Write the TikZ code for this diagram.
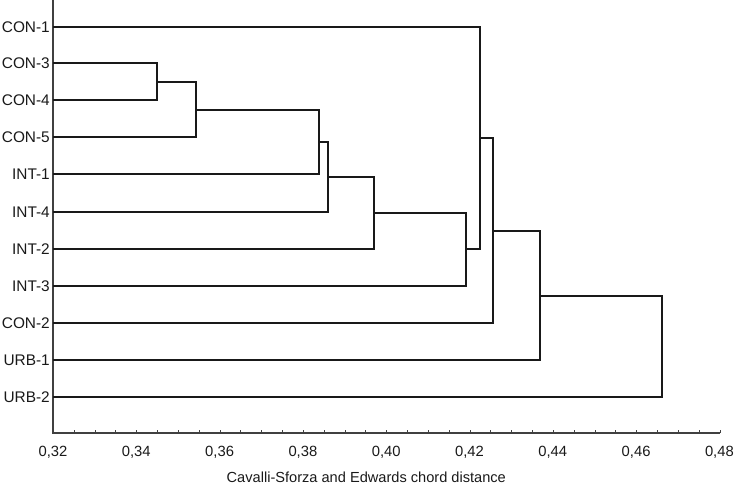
\documentclass[tikz,border=0pt]{standalone}
\usepackage{fontspec}
\setmainfont{Liberation Sans}
\begin{document}
\begin{tikzpicture}[x=1pt,y=-1pt,
  link/.style={draw=black!90, line width=1.6pt, line join=miter},
  axisline/.style={draw=black!75, line width=1.4pt},
  tickmark/.style={draw=black!75, line width=1pt},
  leaflabel/.style={anchor=east, inner sep=0pt, text=black!90, font=\fontsize{15.4}{18}\selectfont},
  ticklabel/.style={anchor=center, inner sep=0pt, text=black!90, font=\fontsize{14.8}{17}\selectfont},
  titlelabel/.style={anchor=west, inner sep=0pt, text=black!90, font=\fontsize{14.6}{17}\selectfont}]
\useasboundingbox (0,0) rectangle (738,484);
% axes
\coordinate (ot) at (53,0);
\coordinate (o) at (53,433);
\coordinate (xe) at (720,433);
\draw[axisline] (ot) -- (o) -- (xe);
\foreach \i in {1,...,32} {
  \draw[tickmark] ({round(53+\i*20.83)+0.5},433) -- ({round(53+\i*20.83)+0.5},430);
}
\foreach \lab [count=\k from 0] in {{0,32},{0,34},{0,36},{0,38},{0,40},{0,42},{0,44},{0,46},{0,48}} {
  \node[ticklabel] (t\k) at ({53+\k*83.3},452) {\lab};
}
\node[titlelabel] (title) at (226.5,477) {Cavalli-Sforza and Edwards chord distance};
% leaves
\foreach \name/\lab/\y in {c1/CON-1/27, c3/CON-3/63, c4/CON-4/100, c5/CON-5/137, i1/INT-1/174, i4/INT-4/212, i2/INT-2/249, i3/INT-3/286, c2/CON-2/323, u1/URB-1/360, u2/URB-2/397} {
  \coordinate (\name) at (53,\y);
  \node[leaflabel] (n\name) at (50,\y) {\lab};
}
% merges
\coordinate (m1) at (157,82);
\coordinate (m2) at (196,110);
\coordinate (m3) at (319,142);
\coordinate (m4) at (328,177);
\coordinate (m5) at (374,213);
\coordinate (m6) at (466,249);
\coordinate (m7) at (480,138);
\coordinate (m8) at (493,231);
\coordinate (m9) at (540,296);
\coordinate (m10) at (662,346);
\draw[link] (c3) -| (m1) |- (c4);
\draw[link] (m1) -| (m2) |- (c5);
\draw[link] (m2) -| (m3) |- (i1);
\draw[link] (m3) -| (m4) |- (i4);
\draw[link] (m4) -| (m5) |- (i2);
\draw[link] (m5) -| (m6) |- (i3);
\draw[link] (c1) -| (m7) |- (m6);
\draw[link] (m7) -| (m8) |- (c2);
\draw[link] (m8) -| (m9) |- (u1);
\draw[link] (m9) -| (m10) |- (u2);
\end{tikzpicture}
\end{document}
